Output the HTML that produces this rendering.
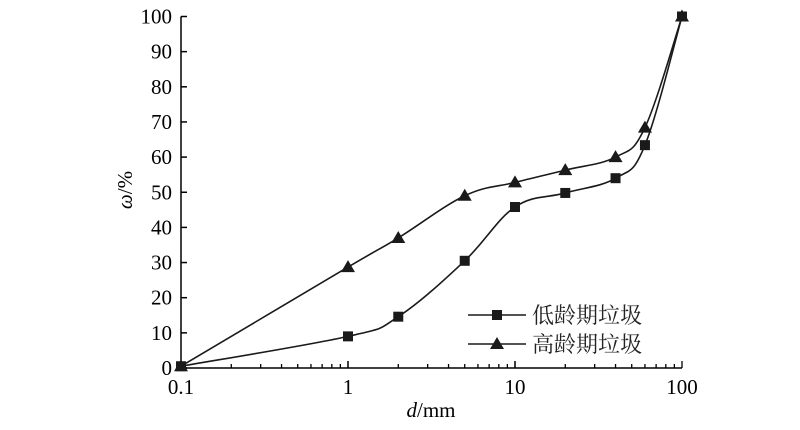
<!DOCTYPE html>
<html><head><meta charset="utf-8"><style>
html,body{margin:0;padding:0;background:#fff;}
svg{display:block;font-family:"Liberation Serif","Noto Serif CJK SC",serif;}
</style></head><body>
<svg id="chart" width="800" height="430" viewBox="0 0 800 430"></svg>
<script>
const xTicks=[0.1,1,10,100];
const xTickLabels=["0.1","1","10","100"];
const yTicks=[0,10,20,30,40,50,60,70,80,90,100];
const xValues=[0.1,1,2,5,10,20,40,60,100];
const lowAge=[0.5,9,14.6,30.5,45.8,49.8,54,63.4,100];
const highAge=[0.5,28.7,37,49,52.8,56.3,60,68.4,100];
const seriesNames=["低龄期垃圾","高龄期垃圾"];

const NS="http://www.w3.org/2000/svg";
const svg=document.getElementById('chart');
const X0=181,X1=682,Y0=368,Y1=16.5;
function sx(v){return X0+(Math.log10(v)+1)/3*(X1-X0);}
function sy(v){return Y0-v/100*(Y0-Y1);}
function mk(tag,attrs,parent){const e=document.createElementNS(NS,tag);for(const k in attrs)e.setAttribute(k,attrs[k]);(parent||svg).appendChild(e);return e;}

// axes
const ax=mk('path',{d:`M${X0},${Y1} V${Y0} H${X1}`,stroke:'#000','stroke-width':1.5,fill:'none'});


yTicks.forEach(t=>{
  const l=mk('line',{x1:X0,x2:X0+6,y1:sy(t),y2:sy(t),stroke:'#000','stroke-width':1.5});
  
  
  const tx=mk('text',{x:X0-9,y:sy(t)+7,'text-anchor':'end','font-size':21});
  tx.textContent=t;
  
  
});
for(let d=-1;d<2;d++){for(let m=1;m<=10;m++){
  const v=m*Math.pow(10,d);const major=(m===1||m===10);
  const l=mk('line',{x1:sx(v),x2:sx(v),y1:Y0,y2:Y0-(major?7:4),stroke:'#000','stroke-width':1.3});
  
  
}}
xTicks.forEach((t,i)=>{
  const tx=mk('text',{x:sx(t),y:Y0+26,'text-anchor':'middle','font-size':21});
  tx.textContent=xTickLabels[i];
  
  
});
const xt=mk('text',{x:431,y:417,'text-anchor':'middle','font-size':21});
xt.innerHTML='<tspan font-style="italic">d</tspan>/mm';


const yt=mk('text',{x:0,y:0,'text-anchor':'middle','font-size':21,transform:'translate(132,190) rotate(-90)'});
yt.innerHTML='<tspan font-style="italic">ω</tspan>/%';



function curve(vals){
  const p=xValues.map((x,i)=>[sx(x),sy(vals[i])]);
  let d=`M${p[0][0]},${p[0][1]}`;
  for(let i=0;i<p.length-1;i++){
    const a=p[Math.max(i-1,0)],b=p[i],c=p[i+1],e=p[Math.min(i+2,p.length-1)];
    const t=0.18;
    d+=` C${b[0]+(c[0]-a[0])*t},${b[1]+(c[1]-a[1])*t} ${c[0]-(e[0]-b[0])*t},${c[1]-(e[1]-b[1])*t} ${c[0]},${c[1]}`;
  }
  return d;
}
function marker(x,y,type,name){
  let m;
  if(type==='sq') m=mk('rect',{x:x-5,y:y-5,width:10,height:10,fill:'#1a1a1a'});
  else m=mk('path',{d:`M${x},${y-7} L${x+7},${y+5} L${x-7},${y+5} Z`,fill:'#1a1a1a'});
  
  
}
[[lowAge,'sq','low-age'],[highAge,'tri','high-age']].forEach(([vals,type,name])=>{
  const pth=mk('path',{d:curve(vals),stroke:'#1a1a1a','stroke-width':1.6,fill:'none'});
  
  
  xValues.forEach((x,i)=>marker(sx(x),sy(vals[i]),type,name+'-point'));
});
// legend
[[0,'sq'],[1,'tri']].forEach(([i,type])=>{
  const y=315+i*29;
  const g=mk('g',{});
  
  
  mk('line',{x1:468,x2:526,y1:y,y2:y,stroke:'#1a1a1a','stroke-width':1.6},g);
  if(type==='sq') mk('rect',{x:492,y:y-5,width:10,height:10,fill:'#1a1a1a'},g);
  else mk('path',{d:`M497,${y-7} L504,${y+5} L490,${y+5} Z`,fill:'#1a1a1a'},g);
  const t=mk('text',{x:532,y:y+8,'font-size':22,'font-family':'"Noto Serif CJK SC",serif',fill:'#222'},g);
  t.textContent=seriesNames[i];
});
</script>
</body></html>
